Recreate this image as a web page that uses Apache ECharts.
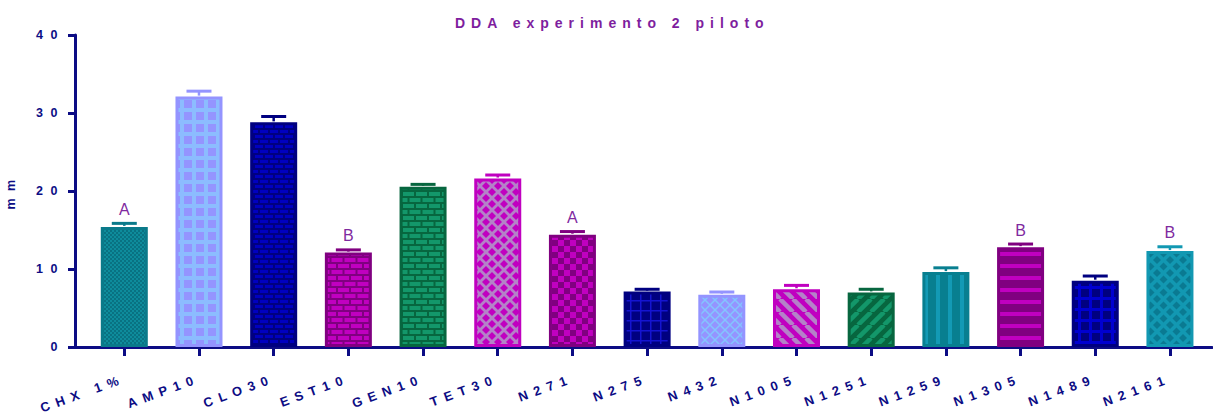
<!DOCTYPE html>
<html>
<head>
<meta charset="utf-8">
<script src="https://cdn.jsdelivr.net/npm/echarts@6/dist/echarts.min.js"></script>
<style>
  html, body { margin: 0; padding: 0; background: #fff; }
  #main { width: 1213px; height: 416px; }
  /* the original figure has widely spaced lettering everywhere */
  #main svg text { letter-spacing: 6.5px; }
  #main svg text[fill="#0d0d85"] { letter-spacing: 7.5px; }
  #main svg text[fill="#7e1e9e"] { letter-spacing: 6px; }
</style>
</head>
<body>
<div id="main"></div>
<script>
// data
var categories = ['CHX 1%', 'AMP10', 'CLO30', 'EST10', 'GEN10', 'TET30', 'N271', 'N275', 'N432', 'N1005', 'N1251', 'N1259', 'N1305', 'N1489', 'N2161'];
var means = [15.4, 32.1, 28.8, 12.1, 20.55, 21.6, 14.4, 7.1, 6.7, 7.4, 7.0, 9.6, 12.8, 8.5, 12.3];
var errors = [0.45, 0.7, 0.75, 0.35, 0.3, 0.45, 0.4, 0.3, 0.35, 0.5, 0.4, 0.55, 0.4, 0.6, 0.55];
var letters = ['A', '', '', 'B', '', '', 'A', '', '', '', '', '', 'B', '', 'B'];
var yTicks = [0, 10, 20, 30, 40];

var FONT = '"Liberation Sans", Arial, sans-serif';
var NAVY = '#0c0c84';
var NAVY_Y = '#0d0d85';   // y axis text, spaced a bit wider

// small pattern tiles for the bar fills
function tile(w, h, bg, draw) {
  var c = document.createElement('canvas');
  c.width = w; c.height = h;
  var g = c.getContext('2d');
  g.fillStyle = bg;
  g.fillRect(0, 0, w, h);
  draw(g);
  return { image: c, repeat: 'repeat' };
}
function checker(s, a, b) {
  return tile(2 * s, 2 * s, a, function (g) {
    g.fillStyle = b;
    g.fillRect(0, 0, s, s);
    g.fillRect(s, s, s, s);
  });
}
function grid(p, lw, bg, fg) {
  return tile(p, p, bg, function (g) {
    g.fillStyle = fg;
    g.fillRect(0, 0, p, lw);
    g.fillRect(0, 0, lw, p);
  });
}
function bricks(bw, bh, mortar, brick) {
  var w = bw + 2, h = bh + 2;
  return tile(w, 2 * h, mortar, function (g) {
    g.fillStyle = brick;
    g.fillRect(0, 0, bw, bh);
    g.fillRect(w / 2, h, bw, bh);
    g.fillRect(w / 2 - w, h, bw, bh);
  });
}
function diag(p, lw, bg, fg, up) {
  return tile(p, p, bg, function (g) {
    g.strokeStyle = fg;
    g.lineWidth = lw;
    for (var k = -1; k <= 1; k++) {
      g.beginPath();
      if (up) { g.moveTo(k * p, p); g.lineTo(k * p + p, 0); }
      else { g.moveTo(k * p, 0); g.lineTo(k * p + p, p); }
      g.stroke();
    }
  });
}
function vstripes(p, lw, bg, fg) {
  return tile(p, 1, bg, function (g) { g.fillStyle = fg; g.fillRect(0, 0, lw, 1); });
}
function hstripes(p, lw, bg, fg) {
  return tile(1, p, bg, function (g) { g.fillStyle = fg; g.fillRect(0, 0, 1, lw); });
}
function diamonds(p, r, bg, fg) {
  return tile(p, p, bg, function (g) {
    g.fillStyle = fg;
    [[0, 0], [p, 0], [0, p], [p, p], [p / 2, p / 2]].forEach(function (c) {
      g.beginPath();
      g.moveTo(c[0], c[1] - r); g.lineTo(c[0] + r, c[1]);
      g.lineTo(c[0], c[1] + r); g.lineTo(c[0] - r, c[1]);
      g.closePath(); g.fill();
    });
  });
}
function lattice(p, lw, bg, fg) {
  return tile(p, p, bg, function (g) {
    g.strokeStyle = fg;
    g.lineWidth = lw;
    g.beginPath();
    g.moveTo(0, p / 2); g.lineTo(p / 2, 0);
    g.moveTo(p / 2, p); g.lineTo(p, p / 2);
    g.moveTo(p / 2, 0); g.lineTo(p, p / 2);
    g.moveTo(0, p / 2); g.lineTo(p / 2, p);
    g.stroke();
  });
}

var edgeColors = ['#0a7a8a', '#9494ff', '#000080', '#800080', '#07663f', '#c000c0', '#800080',
  '#000080', '#9494ff', '#c000c0', '#07663f', '#087f90', '#800080', '#000080', '#1298b2'];
var fills = [
  checker(2, '#0e8c9c', '#097282'),
  grid(12, 4, '#9494ff', '#8cbcff'),
  bricks(8, 3, '#000080', '#0000c0'),
  bricks(11, 4, '#800080', '#c000c0'),
  bricks(11, 4, '#07663f', '#13976a'),
  diamonds(12, 4, '#b482c8', '#c000c0'),
  checker(6, '#c000c0', '#800080'),
  grid(10, 1.5, '#000080', '#1414d0'),
  lattice(10, 1.5, '#9494ff', '#84c4ff'),
  diag(13, 4.5, '#c000c0', '#b482c8', false),
  diag(13, 4.5, '#07663f', '#13976a', true),
  vstripes(12, 4, '#087f90', '#139ab5'),
  hstripes(12, 4, '#800080', '#c000c0'),
  grid(11, 3, '#000080', '#0000d0'),
  diamonds(13, 4, '#1298b2', '#0a7a92')
];

var idx = categories.map(function (c, i) { return i; });
var barData = means.map(function (m, i) {
  return {
    value: [i, m],
    itemStyle: { color: fills[i], borderColor: edgeColors[i], borderWidth: 3 }
  };
});
var errData = means.map(function (m, i) { return [i, m, m + errors[i]]; });

var myChart = echarts.init(document.getElementById('main'), null, { renderer: 'svg' });

myChart.setOption({
  animation: false,
  title: {
    text: 'DDA experimento 2 piloto',
    left: 450,
    top: 11,
    textStyle: { color: '#7e1e9e', fontSize: 14, fontWeight: 'bold', fontFamily: FONT }
  },
  grid: { left: 75, right: 1, top: 35, bottom: 69, containLabel: false, outerBoundsMode: 'none' },
  xAxis: {
    type: 'value',
    min: -0.66,
    max: 14.563,
    splitLine: { show: false },
    axisLine: { show: true, onZero: false, lineStyle: { color: NAVY, width: 3 } },
    axisTick: { show: true, customValues: idx, length: 9, lineStyle: { color: NAVY, width: 3 } },
    axisLabel: {
      customValues: idx,
      formatter: function (v) { return categories[Math.round(v)]; },
      rotate: 20,
      margin: 31,
      color: NAVY,
      fontSize: 13,
      fontWeight: 'bold',
      fontFamily: FONT
    }
  },
  yAxis: {
    type: 'value',
    min: 0,
    max: 40,
    interval: 10,
    name: 'mm',
    nameLocation: 'middle',
    nameRotate: 90,
    nameGap: 58,
    nameTextStyle: { color: NAVY_Y, fontSize: 12.5, fontWeight: 'bold', fontFamily: FONT },
    splitLine: { show: false },
    axisLine: { show: true, onZero: false, lineStyle: { color: NAVY, width: 3 } },
    axisTick: { show: true, length: 7, lineStyle: { color: NAVY, width: 3 } },
    axisLabel: {
      customValues: yTicks,
      margin: 10,
      color: NAVY_Y,
      fontSize: 12.5,
      fontWeight: 'bold',
      fontFamily: FONT
    }
  },
  series: [
    {
      type: 'bar',
      barWidth: 47,
      data: barData
    },
    {
      type: 'custom',
      data: errData,
      z: 3,
      renderItem: function (params, api) {
        var i = params.dataIndex;
        var top = api.coord([api.value(0), api.value(2)]);
        var base = api.coord([api.value(0), api.value(1)]);
        var c = edgeColors[i];
        return {
          type: 'group',
          children: [
            { type: 'line', shape: { x1: top[0], y1: top[1], x2: base[0], y2: base[1] - 1 },
              style: { stroke: c, lineWidth: 2.5 } },
            { type: 'line', shape: { x1: top[0] - 12.5, y1: top[1], x2: top[0] + 12.5, y2: top[1] },
              style: { stroke: c, lineWidth: 3 } },
            { type: 'text', x: top[0] + 3.25, y: top[1] - 6,
              style: { text: letters[i], fill: '#7f2a9f', font: '16px ' + FONT, align: 'center', verticalAlign: 'bottom' } }
          ]
        };
      }
    }
  ]
});
</script>
</body>
</html>
